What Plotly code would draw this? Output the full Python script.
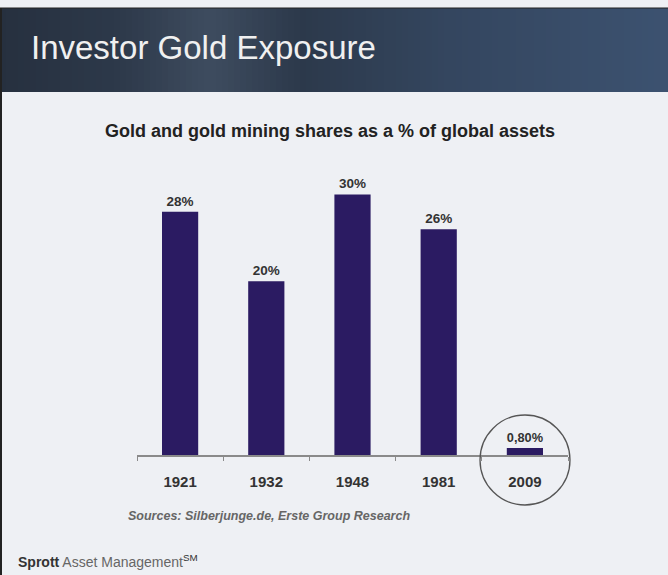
import plotly.graph_objects as go

years = ["1921", "1932", "1948", "1981", "2009"]
shares = [28, 20, 30, 26, 0.8]
labels = ["28%", "20%", "30%", "26%", "0,80%"]

W, H = 668, 575
L, R, T, B = 137, 100, 151, 120
PW, PH = W - L - R, H - T - B

def px(x):
    return (x - L) / PW

def py(y):
    return (H - B - y) / PH

fig = go.Figure()
fig.add_trace(go.Bar(
    x=years, y=shares, text=labels, textposition="outside",
    texttemplate="<b>%{text}</b>",
    marker=dict(color="#2b1b62", line=dict(width=0)),
    textfont=dict(family="Liberation Sans, Arial", size=13.5, color="#333333"),
    cliponaxis=False, width=0.42,
))

shapes = []
# header band: smooth horizontal gradient built from thin strips
stops = [(0, (38, 48, 63)), (120, (45, 57, 74)), (210, (62, 76, 95)), (300, (44, 57, 75)),
         (450, (52, 70, 95)), (668, (60, 82, 112))]

def col(x):
    for (a, ca), (b, cb) in zip(stops[:-1], stops[1:]):
        if a <= x <= b:
            t = (x - a) / (b - a)
            c = [round(ca[i] + (cb[i] - ca[i]) * t) for i in range(3)]
            return "rgb(%d,%d,%d)" % tuple(c)
    return "rgb(%d,%d,%d)" % stops[-1][1]

step = 6
for x in range(0, W, step):
    shapes.append(dict(type="rect", xref="paper", yref="paper", x0=px(x), x1=px(x + step + 0.5),
                       y0=py(92), y1=py(8), fillcolor=col(x + step / 2), line=dict(width=0),
                       layer="below"))
# outer border
shapes.append(dict(type="line", xref="paper", yref="paper", x0=px(1), x1=px(1), y0=py(H), y1=py(8),
                   line=dict(color="#222222", width=2)))
shapes.append(dict(type="line", xref="paper", yref="paper", x0=px(0), x1=px(W), y0=py(8), y1=py(8),
                   line=dict(color="#222222", width=1)))
# circle around 2009
shapes.append(dict(type="circle", xref="paper", yref="paper", x0=px(480), x1=px(570), y0=py(505), y1=py(415),
                   line=dict(color="#555555", width=1.3)))

annotations = [
    dict(text="Investor Gold Exposure", xref="paper", yref="paper", x=px(29), y=py(48),
         xanchor="left", yanchor="middle", showarrow=False,
         font=dict(family="Liberation Sans, Arial", size=33, color="#f0f0f0")),
    dict(text="<b>Gold and gold mining shares as a % of global assets</b>", xref="paper", yref="paper",
         x=px(330), y=py(131), xanchor="center", yanchor="middle", showarrow=False,
         font=dict(family="Liberation Sans, Arial", size=18, color="#222222")),
    dict(text="<b><i>Sources: Silberjunge.de, Erste Group Research</i></b>", xref="paper", yref="paper",
         x=px(126), y=py(516), xanchor="left", yanchor="middle", showarrow=False,
         font=dict(family="Liberation Sans, Arial", size=12.5, color="#666666")),
    dict(text="<b>Sprott</b> <span style='color:#666666'>Asset Management</span><sup>SM</sup>",
         xref="paper", yref="paper",
         x=px(16), y=py(561), xanchor="left", yanchor="middle", showarrow=False,
         font=dict(family="Liberation Sans, Arial", size=14, color="#333333")),
]

fig.update_layout(
    width=W, height=H, margin=dict(l=L, r=R, t=T, b=B),
    paper_bgcolor="#eef0f4", plot_bgcolor="rgba(0,0,0,0)",
    showlegend=False, shapes=shapes, annotations=annotations,
    bargap=0.58,
)
fig.update_xaxes(showline=True, linecolor="#8a8a8a", linewidth=1.5, ticks="outside", ticklen=4,
                 tickcolor="#8a8a8a", tickson="boundaries", showgrid=False,
                 tickfont=dict(family="Liberation Sans, Arial", size=15, color="#333333"),
                 ticklabelstandoff=12, tickprefix="<b>", ticksuffix="</b>")
fig.update_yaxes(range=[0, 35], visible=False, showgrid=False)

fig.write_html("out.html")
